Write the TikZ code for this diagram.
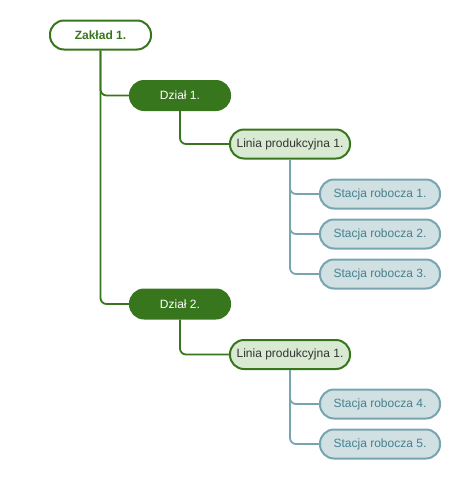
\documentclass[tikz,border=0pt]{standalone}
\usepackage{fontspec}
\setmainfont{Liberation Sans}
\usetikzlibrary{positioning}
\definecolor{darkgreen}{HTML}{38761D}
\definecolor{lightgreen}{HTML}{D9EAD3}
\definecolor{tealline}{HTML}{76A5AF}
\definecolor{tealfill}{HTML}{D0E0E3}
\definecolor{tealtext}{HTML}{45818E}
\tikzset{
    pill/.style={rounded corners=14pt, minimum height=29pt, inner sep=0pt, line width=2pt, font=\fontsize{12}{14}\selectfont},
    plantbox/.style={pill, draw=darkgreen, fill=white, text=darkgreen, minimum width=101pt, font=\fontsize{12}{14}\selectfont\bfseries},
    deptbox/.style={pill, draw=darkgreen, fill=darkgreen, text=white, minimum width=100pt},
    linebox/.style={pill, draw=darkgreen, fill=lightgreen, text=black!80, minimum width=120pt},
    stationbox/.style={pill, draw=tealline, fill=tealfill, text=tealtext, minimum width=120pt},
    greenlink/.style={draw=darkgreen, line width=1.8pt, rounded corners=6pt},
    teallink/.style={draw=tealline, line width=1.8pt, rounded corners=6pt}
}

\begin{document}
\begin{tikzpicture}[x=1pt, y=-1pt]
    \useasboundingbox (0,0) rectangle (460,480);
    % plant and departments
    \node[plantbox] (zaklad) at (100.5,35) {Zakład 1.};
    \node[deptbox] (dzial1) at (180,95.5) {Dział 1.};
    \node[deptbox] (dzial2) at (180,304) {Dział 2.};
    % production lines
    \node[linebox] (linia1) at (290,144) {Linia produkcyjna 1.};
    \node[linebox] (linia2) at (290,354.5) {Linia produkcyjna 1.};
    % work stations
    \foreach \n/\y in {1/194, 2/234, 3/274}
        \node[stationbox] (stacja\n) at (380,\y) {Stacja robocza \n.};
    \foreach \n/\y in {4/404, 5/444}
        \node[stationbox] (stacja\n) at (380,\y) {Stacja robocza \n.};
    % connectors
    \draw[greenlink] (zaklad.south) |- (dzial1.west);
    \draw[greenlink] (zaklad.south) |- (dzial2.west);
    \draw[greenlink] (dzial1.south) |- (linia1.west);
    \draw[greenlink] (dzial2.south) |- (linia2.west);
    \foreach \n in {1,2,3}
        \draw[teallink] (linia1.south) |- (stacja\n.west);
    \foreach \n in {4,5}
        \draw[teallink] (linia2.south) |- (stacja\n.west);
\end{tikzpicture}
\end{document}
